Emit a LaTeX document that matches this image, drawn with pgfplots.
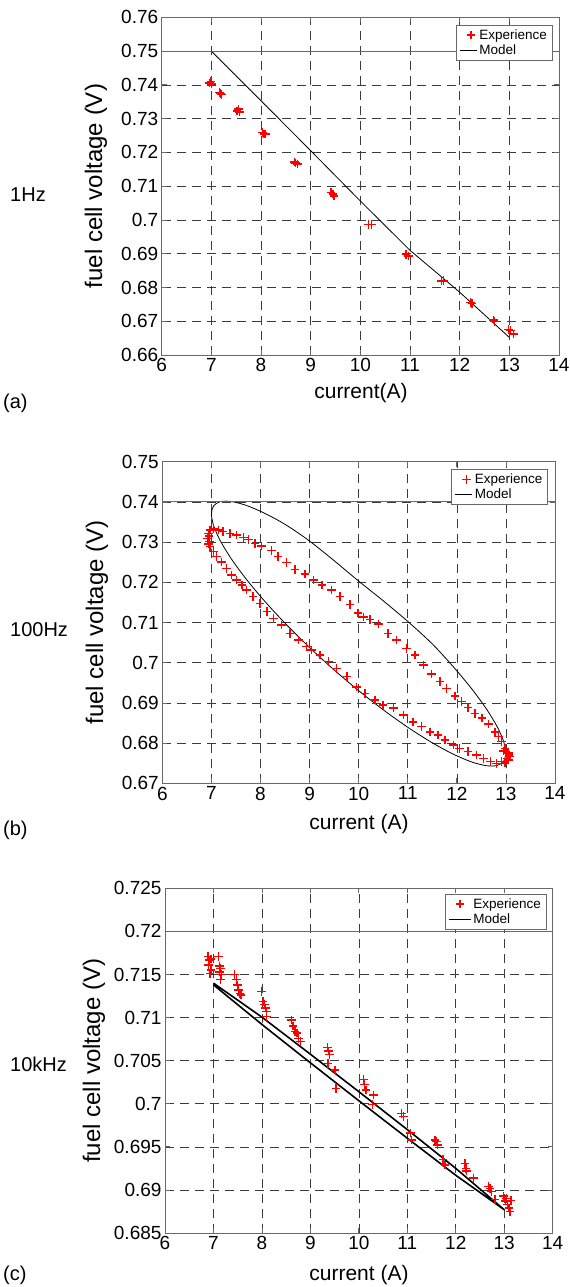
\documentclass[border=0pt]{standalone}
\usepackage{fontspec}
\setmainfont{Liberation Sans}
\usepackage{pgfplots}
\pgfplotsset{compat=1.18}
\definecolor{framegray}{RGB}{105,105,105}
\definecolor{gridgray}{RGB}{60,60,60}
\definecolor{expred}{RGB}{255,0,0}
\pgfplotsset{
  panel/.style={
    scale only axis,
    anchor=north west,
    xmin=6, xmax=14, xtick={6,7,...,14},
    axis line style={framegray, line width=0.9bp},
    grid=major,
    major grid style={draw=gridgray, dash pattern=on 9bp off 6bp, line width=0.6bp},
    tick align=inside,
    major tick length=5bp,
    tick style={draw=framegray, line width=0.8bp},
    ticklabel style={font=\fontsize{19bp}{22bp}\selectfont},
    /pgf/number format/assume math mode=true,
    /pgf/number format/fixed,
    /pgf/number format/precision=3,
    scaled y ticks=false,
    legend style={font=\fontsize{13.5bp}{15bp}\selectfont, at={(rel axis cs:1,1)}, anchor=north east, draw=framegray, line width=0.8bp, fill=white, inner xsep=3.5bp, inner ysep=2bp, row sep=0bp, legend cell align=left, cells={anchor=west}},
    legend entries={Experience, Model},
  },
  exp/.style={only marks, mark=+, mark size=4.3bp, draw=expred, color=expred,
    mark options={draw=expred, solid, line width=1.4bp},
    legend image code/.code={\draw[draw=expred, line width=1bp] plot[mark=+, mark size=4.3bp, only marks] coordinates {(11bp,0bp)};}},
}
\begin{document}
\begin{tikzpicture}
\path[use as bounding box] (0bp,0bp) rectangle (570bp,-1287bp);
% ---------------- (a) 1 Hz ----------------
\begin{axis}[panel, at={(161.7bp,-17.3bp)}, width=397.3bp, height=337.7bp,
  ymin=0.66, ymax=0.76, ytick={0.66,0.67,...,0.761},
  legend style={xshift=-6.3bp, yshift=-7.7bp}]
\addplot[exp] coordinates {
(6.96,0.7405) (6.99,0.7410) (7.00,0.7402) (7.16,0.7378) (7.19,0.7374) (7.21,0.7371)
(7.52,0.7322) (7.55,0.7328) (7.57,0.7319) (8.03,0.7259) (8.06,0.7255) (8.09,0.7254)
(8.67,0.7172) (8.70,0.7168) (8.74,0.7166) (9.41,0.7082) (9.45,0.7077) (9.47,0.7071)
(10.17,0.6987) (10.22,0.6986) (10.92,0.6897) (10.97,0.6893) (11.63,0.6819) (11.67,0.6821)
(12.22,0.6755) (12.25,0.6753) (12.68,0.6704) (12.70,0.6700) (12.98,0.6675) (13.02,0.6672) (13.08,0.6662)
};
\addplot[black, line width=0.8bp] coordinates {
(7,0.7500) (8,0.7353) (9,0.7205) (10,0.7056) (11,0.6910) (12,0.6786) (13,0.6652)
};
\addplot[draw=framegray, line width=0.9bp, forget plot] coordinates {(6,0.75) (14,0.75)};
\end{axis}
% ---------------- (b) 100 Hz ----------------
\begin{axis}[panel, at={(162.3bp,-461.7bp)}, width=392.7bp, height=321.6bp,
  ymin=0.67, ymax=0.75, ytick={0.67,0.68,...,0.751},
  legend style={xshift=-6.7bp, yshift=-7.6bp}]
\addplot[exp] coordinates {
(7.04,0.7334) (7.14,0.7330) (7.24,0.7326) (7.38,0.7322) (7.51,0.7318) (7.65,0.7312)
(7.75,0.7307) (7.89,0.7297) (8.02,0.7290) (8.23,0.7279) (8.36,0.7264) (8.53,0.7249)
(8.70,0.7232) (8.91,0.7221) (9.08,0.7206) (9.25,0.7193) (9.45,0.7181) (9.62,0.7164)
(9.82,0.7145) (9.99,0.7124) (10.10,0.7114) (10.23,0.7108) (10.40,0.7096) (10.60,0.7073)
(10.77,0.7056) (10.98,0.7036) (11.15,0.7019) (11.32,0.6994) (11.49,0.6972) (11.66,0.6953)
(11.79,0.6936) (11.96,0.6917) (12.10,0.6903) (12.23,0.6889) (12.37,0.6874) (12.51,0.6862)
(12.64,0.6848) (12.78,0.6828) (12.85,0.6816) (12.91,0.6804) (12.98,0.6787) (13.02,0.6775)
(6.97,0.7289) (7.04,0.7276) (7.11,0.7264) (7.21,0.7251) (7.31,0.7235) (7.41,0.7218)
(7.51,0.7206) (7.62,0.7193) (7.72,0.7181) (7.85,0.7164) (7.99,0.7148) (8.13,0.7127)
(8.26,0.7110) (8.43,0.7094) (8.60,0.7073) (8.77,0.7056) (8.94,0.7040) (9.04,0.7032)
(9.21,0.7019) (9.38,0.7003) (9.55,0.6986) (9.76,0.6965) (9.96,0.6940) (10.13,0.6924)
(10.33,0.6907) (10.50,0.6895) (10.71,0.6887) (10.91,0.6870) (11.11,0.6853) (11.28,0.6841)
(11.45,0.6828) (11.62,0.6820) (11.76,0.6808) (11.93,0.6795) (12.06,0.6787) (12.23,0.6779)
(12.40,0.6770) (12.54,0.6762) (12.68,0.6754) (12.81,0.6750) (12.91,0.6754) (13.02,0.6762)
(13.05,0.6758) (13.08,0.6766) (12.98,0.6751) (13.05,0.6775) (13.06,0.6770) (12.95,0.6780)
(6.94,0.7322) (6.92,0.7309) (6.96,0.7301) (6.97,0.7330) (6.94,0.7295) (6.95,0.7315)
};
\addplot[black, line width=0.8bp, smooth] coordinates {
(13.000,0.67750) (12.954,0.68042) (12.819,0.68415) (12.598,0.68859) (12.298,0.69359)
(11.928,0.69900) (11.500,0.70467) (11.026,0.71000) (10.521,0.71520) (10.000,0.72030)
(9.479,0.72560) (8.974,0.73050) (8.500,0.73442) (8.072,0.73725) (7.702,0.73917)
(7.402,0.74011) (7.181,0.74007) (7.046,0.73902) (7.000,0.73700) (7.046,0.73409)
(7.181,0.73035) (7.402,0.72591) (7.702,0.72091) (8.072,0.71549) (8.500,0.70983)
(8.974,0.70408) (9.479,0.69843) (10.000,0.69305) (10.521,0.68810) (11.026,0.68373)
(11.500,0.68008) (11.928,0.67725) (12.298,0.67533) (12.598,0.67439) (12.819,0.67443)
(12.954,0.67549) (13.000,0.67750)
};
\addplot[draw=framegray, line width=0.9bp, forget plot] coordinates {(6,0.74) (14,0.74)};
\end{axis}
% ---------------- (c) 10 kHz ----------------
\begin{axis}[panel, at={(165bp,-888.3bp)}, width=387.7bp, height=344.7bp,
  ymin=0.685, ymax=0.725, ytick={0.685,0.69,0.695,0.70,0.705,0.71,0.715,0.72,0.725},
  legend style={xshift=-6bp, yshift=-5.7bp}]
\addplot[exp] coordinates {
(6.89,0.7171) (6.92,0.7167) (6.90,0.7161) (6.95,0.7155) (6.93,0.7151) (6.95,0.7168)
(7.10,0.7171) (7.13,0.7160) (7.15,0.7157) (7.12,0.7153) (7.17,0.7150) (7.15,0.7144)
(7.44,0.7150) (7.47,0.7144) (7.50,0.7138) (7.52,0.7132) (7.55,0.7128) (7.57,0.7126)
(7.99,0.7130) (8.02,0.7119) (8.05,0.7115) (8.07,0.7111) (8.10,0.7107) (8.09,0.7101)
(8.61,0.7097) (8.64,0.7090) (8.68,0.7084) (8.72,0.7082) (8.75,0.7076) (8.79,0.7072)
(9.35,0.7065) (9.37,0.7061) (9.39,0.7057) (9.36,0.7047) (9.51,0.7039) (9.53,0.7018)
(10.09,0.7028) (10.12,0.7022) (10.15,0.7016) (10.30,0.7010) (10.28,0.6999)
(10.88,0.6989) (10.92,0.6985) (11.06,0.6966) (11.09,0.6958)
(11.57,0.6958) (11.60,0.6956) (11.62,0.6952) (11.74,0.6935) (11.78,0.6929)
(12.19,0.6931) (12.21,0.6925) (12.22,0.6922) (12.36,0.6914)
(12.67,0.6904) (12.71,0.6902) (12.74,0.6898) (12.81,0.6889)
(12.98,0.6893) (13.02,0.6887) (13.07,0.6883) (13.10,0.6879) (13.12,0.6875) (13.05,0.6890) (13.14,0.6888)
};
\addplot[black, line width=1.6bp,
  legend image code/.code={\draw[black, line width=0.8bp] (0bp,0bp) -- (22bp,0bp);}] coordinates {
(7,0.7140) (8,0.71005) (9,0.70575) (10,0.70140) (11,0.69700) (12,0.69250) (13,0.6877)
(12,0.69170) (11,0.69600) (10,0.70035) (9,0.70475) (8,0.70920) (7,0.7138)
};
\addplot[draw=framegray, line width=0.9bp, forget plot] coordinates {(6,0.72) (14,0.72)};
\end{axis}
% ---------------- labels ----------------
\begin{scope}[every node/.style={inner sep=0pt}]
\node[rotate=90, font=\fontsize{24bp}{28bp}\selectfont] at (96bp,-186bp) {fuel cell voltage (V)};
\node[rotate=90, font=\fontsize{24bp}{28bp}\selectfont] at (97bp,-622.5bp) {fuel cell voltage (V)};
\node[rotate=90, font=\fontsize{24bp}{28bp}\selectfont] at (94bp,-1060.7bp) {fuel cell voltage (V)};
\node[font=\fontsize{21bp}{24bp}\selectfont] at (361bp,-393bp) {current(A)};
\node[font=\fontsize{21bp}{24bp}\selectfont] at (359bp,-824bp) {current (A)};
\node[font=\fontsize{21bp}{24bp}\selectfont] at (359bp,-1275bp) {current (A)};
\node[anchor=west, font=\fontsize{20bp}{24bp}\selectfont] at (10bp,-195bp) {1Hz};
\node[anchor=west, font=\fontsize{20bp}{24bp}\selectfont] at (10bp,-630bp) {100Hz};
\node[anchor=west, font=\fontsize{20bp}{24bp}\selectfont] at (10bp,-1064bp) {10kHz};
\node[anchor=west, font=\fontsize{20bp}{24bp}\selectfont] at (3bp,-403bp) {(a)};
\node[anchor=west, font=\fontsize{20bp}{24bp}\selectfont] at (3bp,-830bp) {(b)};
\node[anchor=west, font=\fontsize{20bp}{24bp}\selectfont] at (3bp,-1275bp) {(c)};
\end{scope}
\end{tikzpicture}
\end{document}
